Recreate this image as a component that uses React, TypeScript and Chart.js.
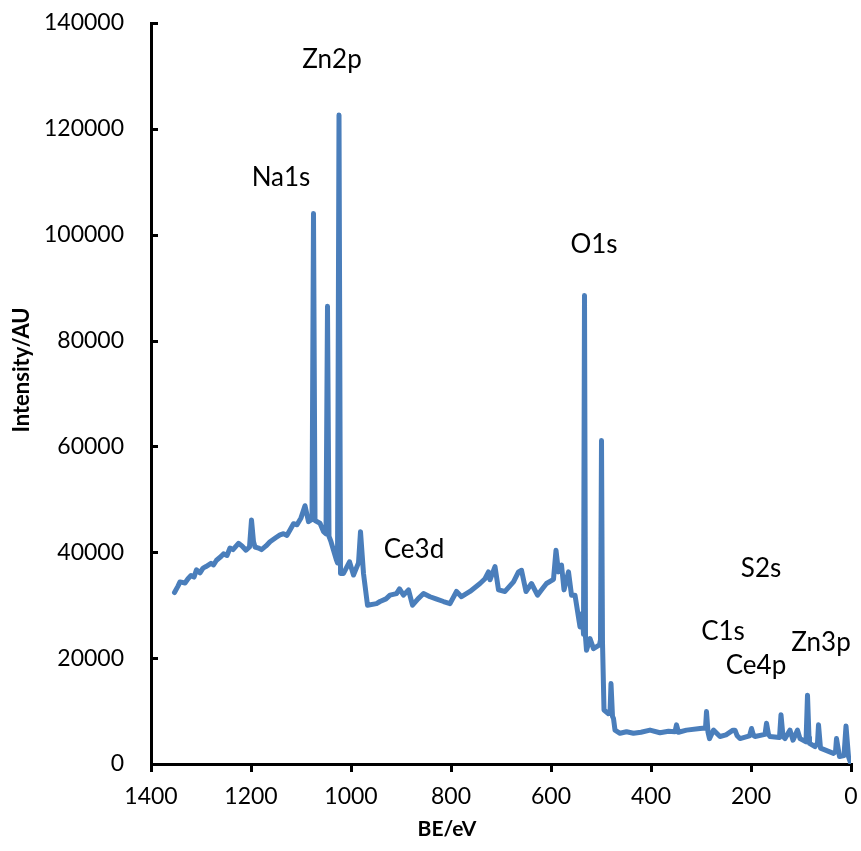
import React, { useEffect, useRef } from "react";
import { Chart, registerables } from "chart.js";

Chart.register(...registerables);

// Binding energy (eV) and intensity (counts)
const bindingEnergy = [
  1353, 1346, 1342, 1332, 1326, 1320, 1314, 1309, 1302, 1296, 1290, 1280, 1275, 1269, 1260, 1255, 1248, 1242, 1236, 1225, 1218, 1210, 1203, 1199, 1195, 1192, 1185, 1179,
  1170, 1162, 1150, 1142, 1135, 1128, 1122, 1115, 1108, 1100, 1092, 1085, 1078, 1075, 1072, 1062, 1055, 1050, 1047, 1044, 1040,
  1029, 1027, 1024, 1021, 1015, 1003, 995, 985, 981, 975, 967, 949, 942, 930, 922, 909, 903, 895, 885, 877,
  866, 855, 842, 830, 815, 802, 789, 779, 762, 742, 732, 725, 722, 712, 705, 692, 675, 665, 659, 650, 639, 627, 618, 609,
  595, 590, 585, 579, 574, 565, 559, 552, 542, 537, 535, 533, 531, 529, 522, 515, 503, 501, 499, 497,
  494, 485, 482, 480, 477, 475, 472, 462, 449, 435, 420, 402, 382, 365, 352, 349, 345, 329, 302, 291,
  289, 286, 283, 275, 262, 250, 236, 232, 228, 222, 203, 199, 195, 192, 172, 169, 165, 162, 143, 140,
  136, 132, 122, 116, 107, 102, 90, 87, 84, 83, 72, 67, 65, 61, 35, 31, 29, 23, 14, 10, 5, 0,
];
const intensity = [
  32400, 33600, 34400, 34200, 35000, 35600, 35300, 36700, 36100, 37000, 37300, 37900, 37600, 38500, 39200, 39700, 39400, 40800, 40500, 41700, 41200, 40400, 41000, 46100, 42000, 41000, 40800, 40500,
  41200, 42000, 42800, 43300, 43500, 43200, 44200, 45400, 45200, 46500, 48800, 45800, 46200, 104000, 46000, 45500, 43900, 43500, 86500, 43000, 42000,
  38500, 38000, 122600, 36000, 36000, 38200, 35700, 38000, 43900, 36000, 30000, 30300, 30700, 31200, 31900, 32200, 33100, 31900, 32900, 30000,
  31200, 32200, 31600, 31200, 30700, 30300, 32600, 31600, 32600, 34100, 35000, 36300, 34800, 37300, 32900, 32600, 34400, 36300, 36600, 32600, 34100, 31900, 33000, 34100,
  34900, 40400, 36300, 37600, 32900, 36300, 31900, 31900, 25900, 28500, 24500, 88500, 24000, 21500, 23700, 21800, 22500, 23500, 61100, 23000,
  10200, 9500, 9600, 15200, 9000, 8600, 6400, 5800, 6100, 5800, 6000, 6400, 5900, 6200, 6100, 7400, 6000, 6400, 6700, 6800,
  9900, 6000, 4800, 6400, 5200, 5500, 6400, 6400, 5400, 4800, 5300, 6700, 5400, 5200, 5600, 7700, 5600, 5200, 5000, 9300,
  5200, 4800, 6400, 4500, 6400, 4800, 4200, 13000, 5000, 3900, 3300, 4000, 7400, 3000, 2000, 2300, 4800, 1400, 1600, 7200, 1400, 0,
];

// Peak annotations anchored in data coordinates (eV, counts)
const peakNames = ["Zn2p", "Na1s", "O1s", "Ce3d", "S2s", "C1s", "Zn3p", "Ce4p"];
const peakNameEnergy = [1038, 1140, 514, 874, 180, 256, 60, 190];
const peakNameIntensity = [133000, 110800, 98200, 40600, 37000, 25100, 22900, 18600];

const xTitle = "BE/eV";
const yTitle = "Intensity/AU";
const xRange = [0, 1400];
const yRange = [0, 140000];
const xStep = 200;
const yStep = 20000;

export default function App() {
  const ref = useRef<HTMLCanvasElement>(null);

  useEffect(() => {
    if (!ref.current) return;
    const annotate = {
      id: "annotate",
      afterDatasetsDraw(chart: any) {
        const { ctx, scales, chartArea } = chart;
        ctx.save();
        // inward tick marks on the value axis
        ctx.strokeStyle = "#000";
        ctx.lineWidth = 3;
        scales.y.ticks.forEach((t: any) => {
          const py = Math.round(scales.y.getPixelForValue(t.value)) + 0.5;
          ctx.beginPath();
          ctx.moveTo(chartArea.left, py);
          ctx.lineTo(chartArea.left + 7, py);
          ctx.stroke();
        });
        ctx.fillStyle = "#000";
        ctx.textAlign = "center";
        ctx.textBaseline = "middle";
        ctx.font = "26px Lato";
        peakNames.forEach((t, i) => {
          ctx.fillText(
            t,
            scales.x.getPixelForValue(peakNameEnergy[i]),
            scales.y.getPixelForValue(peakNameIntensity[i])
          );
        });
        ctx.font = "bold 21px Lato";
        ctx.fillText(xTitle, chartArea.left + 296, chartArea.bottom + 65);
        ctx.font = "bold 22px Lato";
        ctx.translate(22, chartArea.top + 347);
        ctx.rotate(-Math.PI / 2);
        ctx.fillText(yTitle, 0, 0);
        ctx.restore();
      },
    };

    const chart = new Chart(ref.current, {
      type: "line",
      data: {
        datasets: [
          {
            data: bindingEnergy.map((e, i) => ({ x: e, y: intensity[i] })),
            borderColor: "#4a7ebb",
            borderWidth: 5,
            pointRadius: 0,
            tension: 0,
            borderJoinStyle: "round",
            borderCapStyle: "round",
            fill: false,
          },
        ],
      },
      options: {
        animation: false,
        responsive: false,
        layout: { padding: { top: 23, right: 10, left: 0, bottom: 0 } },
        plugins: { legend: { display: false }, tooltip: { enabled: false } },
        scales: {
          x: {
            type: "linear",
            reverse: true,
            min: xRange[0],
            max: xRange[1],
            afterFit: (s: any) => {
              s.height = 87;
              s.paddingLeft = 0;
              s.paddingRight = 0;
            },
            ticks: {
              stepSize: xStep,
              color: "#000",
              font: { family: "Lato", size: 23 },
              padding: 11,
              maxRotation: 0,
              callback: (v: any) => String(v),
            },
            grid: {
              drawOnChartArea: false,
              drawTicks: true,
              tickLength: 8,
              color: "#000",
              lineWidth: 3,
            },
            border: { display: true, color: "#000", width: 3 },
          },
          y: {
            min: yRange[0],
            max: yRange[1],
            afterFit: (s: any) => {
              s.width = 151;
              s.paddingTop = 0;
              s.paddingBottom = 0;
            },
            ticks: {
              stepSize: yStep,
              color: "#000",
              font: { family: "Lato", size: 23 },
              padding: 10,
              callback: (v: any) => String(v),
            },
            grid: {
              drawOnChartArea: false,
              drawTicks: true,
              tickLength: 17,
              tickColor: "rgba(0,0,0,0)",
              color: "#000",
              lineWidth: 3,
            },
            border: { display: true, color: "#000", width: 3 },
          },
        },
      },
      plugins: [annotate],
    });
    return () => chart.destroy();
  }, []);

  return (
    <div style={{ position: "absolute", left: 0, top: 0, width: 861, height: 851, background: "#fff" }}>
      <canvas ref={ref} width={861} height={851} style={{ display: "block" }} />
    </div>
  );
}
